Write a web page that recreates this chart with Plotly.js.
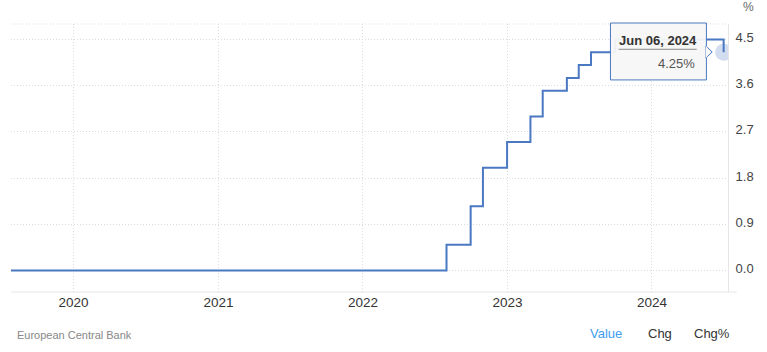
<!DOCTYPE html>
<html>
<head>
<meta charset="utf-8">
<script src="https://cdn.plot.ly/plotly-3.0.1.min.js"></script>
<style>
html,body{margin:0;padding:0;background:#fff;}
#chart{width:767px;height:352px;}
</style>
</head>
<body>
<div id="chart"></div>
<script>
// ECB main refinancing rate, step changes (dates of change as plotted)
const dates  = ['2019-06-30','2022-07-31','2022-09-30','2022-10-31','2022-12-31','2023-02-28','2023-03-31','2023-05-31','2023-06-30','2023-07-31','2023-09-30','2024-06-30'];
const rates  = [0, 0.5, 1.25, 2.0, 2.5, 3.0, 3.5, 3.75, 4.0, 4.25, 4.5, 4.25];
const yTicks = [0, 0.9, 1.8, 2.7, 3.6, 4.5];
const yTickLabels = ['0.0','0.9','1.8','2.7','3.6','4.5'];
const xTicks = ['2020-01-01','2021-01-01','2022-01-01','2023-01-01','2024-01-01'];
const xTickLabels = ['2020','2021','2022','2023','2024'];
const tooltipDate = 'Jun 06, 2024';
const unitLabel = '%';
const sourceLabel = 'European Central Bank';
const modeLabels = ['Value','Chg','Chg%'];

const W = 767, H = 352;
const M = {l: 11, r: 38.7, t: 24, b: 59.7};
const PW = W - M.l - M.r, PH = H - M.t - M.b;
const px = x => (x - M.l) / PW;
const py = y => (H - M.b - y) / PH;

const lineColor = '#4a78c2';
const font = 'Liberation Sans, Arial, sans-serif';
const gridDash = '1px,2px';

const last = rates.length - 1;

const traces = [
  {
    x: dates, y: rates, type: 'scatter', mode: 'lines',
    line: {color: lineColor, width: 2, shape: 'hv'},
    hoverinfo: 'skip'
  },
  {
    x: [dates[last]], y: [rates[last]], type: 'scatter', mode: 'markers',
    marker: {size: 17, color: 'rgba(74,120,194,0.25)', line: {width: 0}},
    hoverinfo: 'skip'
  }
];

const layout = {
  width: W, height: H,
  margin: M,
  showlegend: false,
  hovermode: false,
  paper_bgcolor: '#fff',
  plot_bgcolor: '#fff',
  font: {family: font, size: 13, color: '#333'},
  xaxis: {
    type: 'date',
    range: ['2019-07-27', '2024-07-11'],
    tickvals: xTicks, ticktext: xTickLabels,
    showgrid: true, gridcolor: '#dcdcdc', griddash: gridDash, gridwidth: 1,
    showline: false, zeroline: false, ticks: '',
    tickfont: {family: font, size: 13.5, color: '#333'}
  },
  yaxis: {
    side: 'right',
    range: [-0.42, 4.8],
    tickvals: yTicks, ticktext: yTickLabels,
    showgrid: true, gridcolor: '#dcdcdc', griddash: gridDash, gridwidth: 1,
    showline: true, linecolor: '#e6e6e6', linewidth: 1, mirror: false,
    zeroline: false, ticks: '',
    ticklabelstandoff: 4, ticklabelshift: -2,
    tickfont: {family: font, size: 13, color: '#444'}
  },
  shapes: [
    // top dotted border
    {type: 'line', xref: 'paper', yref: 'paper', x0: 0, x1: 1, y0: 1, y1: 1,
     line: {color: '#dcdcdc', width: 1, dash: gridDash}, layer: 'below'},
    // bottom axis line
    {type: 'line', xref: 'paper', yref: 'paper', x0: 0, x1: px(737), y0: 0, y1: 0,
     line: {color: '#e6e6e6', width: 1}},
    // tooltip box
    {type: 'rect', xref: 'paper', yref: 'paper',
     x0: px(610.7), x1: px(706.7), y0: py(80), y1: py(23),
     fillcolor: 'rgba(247,247,247,0.95)', line: {color: lineColor, width: 1}},
    // tooltip pointer
    {type: 'path', xref: 'paper', yref: 'paper',
     path: `M ${px(706.2)},${py(46)} L ${px(712.5)},${py(52)} L ${px(706.2)},${py(58)} Z`,
     fillcolor: 'rgba(247,247,247,1)', line: {color: lineColor, width: 1}},
    {type: 'line', xref: 'paper', yref: 'paper', x0: px(706.7), x1: px(706.7), y0: py(46.6), y1: py(57.4),
     line: {color: 'rgba(247,247,247,1)', width: 1.5}},
    // underline
    {type: 'line', xref: 'paper', yref: 'paper', x0: px(619), x1: px(697), y0: py(49.3), y1: py(49.3),
     line: {color: '#8a8a8a', width: 1}}
  ],
  annotations: [
    {xref: 'paper', yref: 'paper', x: px(658), y: py(40.7), text: '<b>' + tooltipDate + '</b>',
     showarrow: false, xanchor: 'center', yanchor: 'middle',
     font: {family: font, size: 13, color: '#333'}},
    {xref: 'paper', yref: 'paper', x: px(697), y: py(63.3), text: rates[last].toFixed(2) + '%',
     showarrow: false, xanchor: 'right', yanchor: 'middle',
     font: {family: font, size: 13, color: '#555'}},
    {xref: 'paper', yref: 'paper', x: px(741), y: py(7), text: unitLabel,
     showarrow: false, xanchor: 'left', yanchor: 'middle',
     font: {family: font, size: 12, color: '#666'}},
    {xref: 'paper', yref: 'paper', x: px(15), y: py(335), text: sourceLabel,
     showarrow: false, xanchor: 'left', yanchor: 'middle',
     font: {family: font, size: 11, color: '#888'}},
    {xref: 'paper', yref: 'paper', x: px(588), y: py(334), text: modeLabels[0],
     showarrow: false, xanchor: 'left', yanchor: 'middle',
     font: {family: font, size: 13, color: '#3d9df0'}},
    {xref: 'paper', yref: 'paper', x: px(646), y: py(334), text: modeLabels[1],
     showarrow: false, xanchor: 'left', yanchor: 'middle',
     font: {family: font, size: 13, color: '#333'}},
    {xref: 'paper', yref: 'paper', x: px(692.5), y: py(334), text: modeLabels[2],
     showarrow: false, xanchor: 'left', yanchor: 'middle',
     font: {family: font, size: 13, color: '#333'}}
  ]
};

Plotly.newPlot('chart', traces, layout, {displayModeBar: false, staticPlot: true});
</script>
</body>
</html>
